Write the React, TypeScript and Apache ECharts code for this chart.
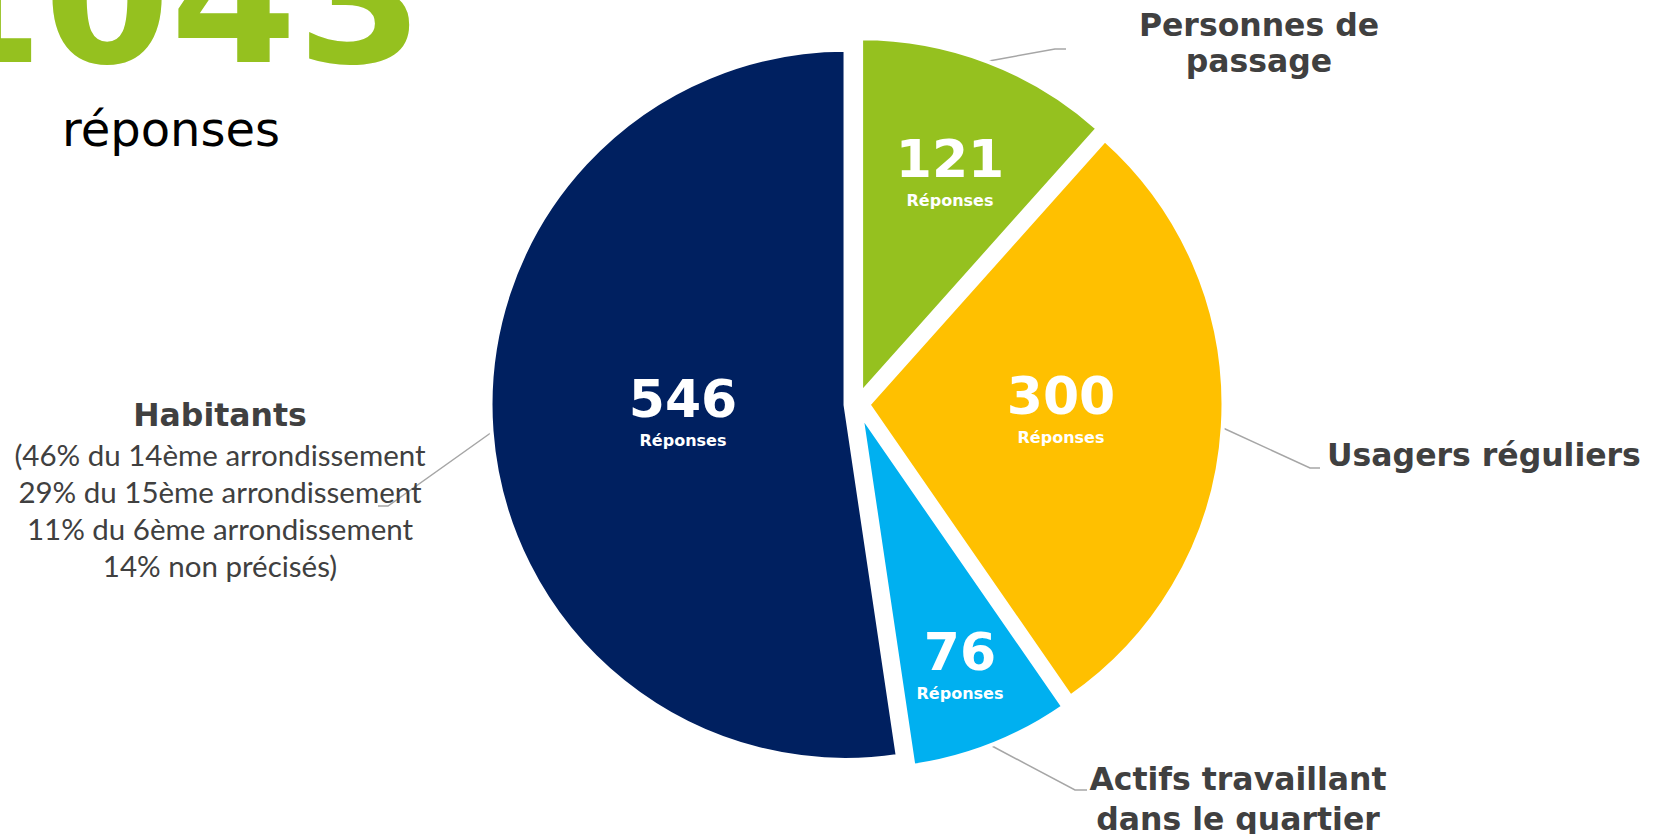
import React, { useEffect, useRef } from "react";
import * as echarts from "echarts";

// ---- data ----
const categories = [
  "Personnes de passage",
  "Usagers réguliers",
  "Actifs travaillant dans le quartier",
  "Habitants",
];
const responses = [121, 300, 76, 546];
const outerLabelLines = [
  ["Personnes de", "passage"],
  ["Usagers réguliers"],
  ["Actifs travaillant", "dans le quartier"],
  ["Habitants"],
];
const habitantsDetail = [
  "(46% du 14ème arrondissement",
  "29% du 15ème arrondissement",
  "11% du 6ème arrondissement",
  "14% non précisés)",
];
const unitLabel = "Réponses";
const totalLabel = "réponses";

// ---- styles / positions ----
const COLORS = ["#95C11F", "#FFC000", "#00B0F0", "#002060"];
const TEXT = "#404040";
const LINE = "#A6A6A6";
const CENTER = [857, 404];
const RADIUS = 355;
const EXPLODE = 11.5;
const INNER_POS = [
  [950, 173],
  [1061, 410],
  [960, 666],
  [683, 413],
];
const OUTER_POS = [
  [1259, 43],
  [1327, 455],
  [1238, 799],
  [220, 490],
];
const OUTER_ALIGN = ["center", "left", "center", "center"];
const OUTER_RICH = ["p", "p", "q", "h"];
const LEADERS = [
  [[989, 61], [1055, 49], [1066, 49]],
  [[1223, 428], [1310, 468], [1320, 468]],
  [[992, 746], [1075, 790], [1087, 790]],
  [[492, 432], [388, 506], [378, 506]],
];

const BOLD = "'DejaVu Sans', Verdana, sans-serif";

export default function App() {
  const ref = useRef<HTMLDivElement>(null);

  useEffect(() => {
    if (!ref.current) return;
    const chart = echarts.init(ref.current, undefined, { renderer: "svg" });
    const total = responses.reduce((a, b) => a + b, 0);
    let acc = 0;
    const mids = responses.map((v) => {
      const m = ((acc + v / 2) / total) * 2 * Math.PI;
      acc += v;
      return m;
    });

    const sliceSeries = responses.map((_, k) => ({
      type: "pie",
      silent: true,
      startAngle: 90,
      clockwise: true,
      avoidLabelOverlap: false,
      radius: RADIUS,
      center: [
        CENTER[0] + EXPLODE * Math.sin(mids[k]),
        CENTER[1] - EXPLODE * Math.cos(mids[k]),
      ],
      emphasis: { disabled: true },
      labelLine: { show: false },
      label: {
        show: true,
        position: "inside",
        formatter: (p: any) => `{n|${p.value}}\n{r|${unitLabel}}`,
        rich: {
          n: {
            fontFamily: BOLD,
            fontWeight: "bold",
            fontSize: 52,
            lineHeight: 54,
            color: "#ffffff",
            align: "center",
          },
          r: {
            fontFamily: BOLD,
            fontWeight: "bold",
            fontSize: 16,
            lineHeight: 28,
            color: "#ffffff",
            align: "center",
          },
        },
      },
      labelLayout: (params: any) => {
        const pos = INNER_POS[params.dataIndex];
        return { x: pos[0], y: pos[1], align: "center", verticalAlign: "middle" };
      },
      data: responses.map((v, i) => ({
        name: categories[i],
        value: v,
        itemStyle:
          i === k
            ? { color: COLORS[i], borderColor: "#ffffff", borderWidth: 4 }
            : { color: "transparent", borderWidth: 0 },
        label: { show: i === k },
      })),
    }));

    const labelSeries = {
      type: "pie",
      silent: true,
      startAngle: 90,
      clockwise: true,
      avoidLabelOverlap: false,
      radius: RADIUS,
      center: CENTER,
      emphasis: { disabled: true },
      itemStyle: { color: "transparent", borderWidth: 0 },
      label: {
        show: true,
        position: "outside",
        color: TEXT,
        formatter: (p: any) => {
          const i = p.dataIndex;
          const tag = OUTER_RICH[i];
          let s = outerLabelLines[i].map((l) => `{${tag}|${l}}`).join("\n");
          if (i === 3) {
            s += "\n" + habitantsDetail.map((l) => `{s|${l}}`).join("\n");
          }
          return s;
        },
        rich: {
          p: { fontFamily: BOLD, fontWeight: "bold", fontSize: 31.5, lineHeight: 36, color: TEXT },
          q: { fontFamily: BOLD, fontWeight: "bold", fontSize: 31.5, lineHeight: 40, color: TEXT },
          h: { fontFamily: BOLD, fontWeight: "bold", fontSize: 31.5, lineHeight: 40, color: TEXT },
          s: { fontFamily: "Lato, sans-serif", fontSize: 29.5, lineHeight: 37.3, color: TEXT },
        },
      },
      labelLine: { show: true, lineStyle: { color: LINE, width: 1.5 } },
      labelLayout: (params: any) => {
        const i = params.dataIndex;
        return {
          x: OUTER_POS[i][0],
          y: OUTER_POS[i][1],
          align: OUTER_ALIGN[i],
          verticalAlign: "middle",
          labelLinePoints: LEADERS[i],
        };
      },
      data: responses.map((v, i) => ({ name: categories[i], value: v })),
    };

    chart.setOption({
      animation: false,
      backgroundColor: "#ffffff",
      graphic: [
        {
          type: "text",
          x: -83,
          y: -1,
          style: {
            text: String(total),
            font: `bold 182px ${BOLD}`,
            fill: COLORS[0],
            align: "left",
            verticalAlign: "middle",
          },
        },
        {
          type: "text",
          x: 171,
          y: 129,
          style: {
            text: totalLabel,
            font: `48px ${BOLD}`,
            fill: "#000000",
            align: "center",
            verticalAlign: "middle",
          },
        },
      ],
      series: [...sliceSeries, labelSeries],
    });
    return () => chart.dispose();
  }, []);

  return (
    <div
      ref={ref}
      style={{ position: "absolute", left: 0, top: 0, width: 1658, height: 834 }}
    />
  );
}
